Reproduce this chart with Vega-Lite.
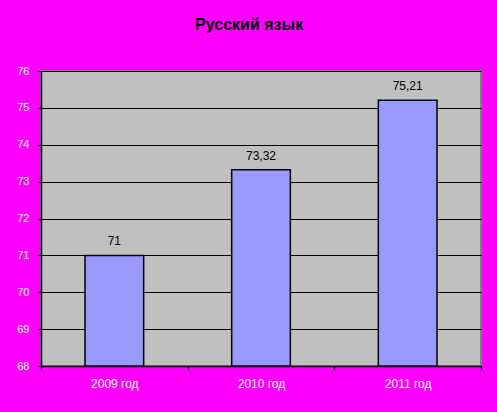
{
  "$schema": "https://vega.github.io/schema/vega-lite/v6.json",
  "width": 440,
  "height": 295,
  "autosize": {"type": "none"},
  "padding": {"left": 41, "top": 71, "right": 16, "bottom": 46},
  "background": "#FF00FF",
  "title": {
    "text": "Русский язык",
    "font": "Liberation Sans",
    "fontSize": 16,
    "fontWeight": "bold",
    "color": "#000000",
    "anchor": "middle",
    "frame": "bounds",
    "offset": 32
  },
  "config": {
    "view": {"fill": "#C0C0C0", "stroke": "#808080", "strokeWidth": 2}
  },
  "data": {
    "values": [
      {"year": "2009 год", "value": 71, "label": "71"},
      {"year": "2010 год", "value": 73.32, "label": "73,32"},
      {"year": "2011 год", "value": 75.21, "label": "75,21"}
    ]
  },
  "encoding": {
    "x": {
      "field": "year",
      "type": "nominal",
      "sort": null,
      "scale": {"paddingInner": 0, "paddingOuter": 0},
      "axis": {
        "title": null,
        "labelAngle": 0,
        "labelFont": "Liberation Sans",
        "labelFontSize": 12,
        "labelColor": "#FFFFFF",
        "labelPadding": 8,
        "tickBand": "extent",
        "tickColor": "#000000",
        "tickSize": 4,
        "domainColor": "#000000",
        "domainWidth": 1.5
      }
    },
    "y": {
      "field": "value",
      "type": "quantitative",
      "scale": {"domain": [68, 76], "zero": false, "nice": false},
      "axis": {
        "title": null,
        "values": [68, 69, 70, 71, 72, 73, 74, 75, 76],
        "labelFont": "Liberation Sans",
        "labelFontSize": 11,
        "labelColor": "#FFFFFF",
        "labelPadding": 8,
        "tickColor": "#000000",
        "tickSize": 4,
        "domainColor": "#000000",
        "domainWidth": 1.5,
        "grid": true,
        "gridColor": "#000000",
        "gridOpacity": 1,
        "gridWidth": 1
      }
    }
  },
  "layer": [
    {
      "mark": {"type": "bar", "width": {"band": 0.4}, "fill": "#9999FF", "stroke": "#000000", "strokeWidth": 1.5},
      "encoding": {"y2": {"datum": 68}}
    },
    {
      "mark": {"type": "text", "baseline": "bottom", "dy": -7, "font": "Liberation Sans", "fontSize": 12, "color": "#000000"},
      "encoding": {"text": {"field": "label"}}
    }
  ]
}
